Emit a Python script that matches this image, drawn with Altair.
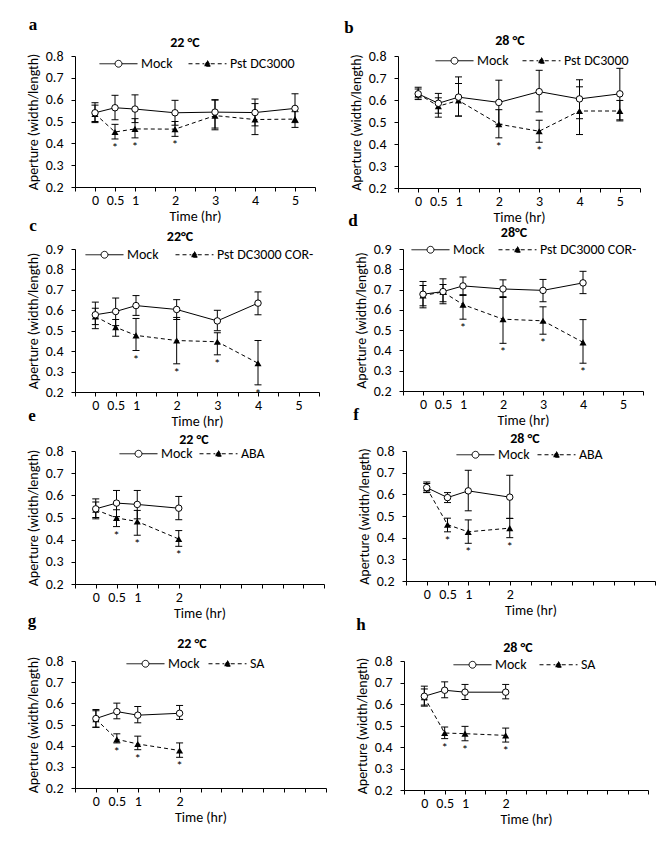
import altair as alt
import pandas as pd

FONT = "Carlito, Lato, sans-serif"
SERIF = "Liberation Serif, DejaVu Serif, serif"

# ---------------- data ----------------
T_LONG = [0, 0.5, 1, 2, 3, 4, 5]
T_COR = [0, 0.5, 1, 2, 3, 4]
T_SHORT = [0, 0.5, 1, 2]
X_TICKS = [-0.5, 0, 0.5, 1, 1.5, 2, 2.5, 3, 3.5, 4, 4.5, 5, 5.5]
LABELS_LONG = [0, 0.5, 1, 2, 3, 4, 5]
LABELS_SHORT = [0, 0.5, 1, 2]
Y_TICKS_8 = [0.2, 0.3, 0.4, 0.5, 0.6, 0.7, 0.8]
Y_TICKS_9 = [0.2, 0.3, 0.4, 0.5, 0.6, 0.7, 0.8, 0.9]

# a: 22 °C, Pst DC3000
a_mock = [0.540, 0.563, 0.557, 0.540, 0.543, 0.541, 0.560]
a_mock_lo = [0.495, 0.508, 0.495, 0.483, 0.470, 0.480, 0.495]
a_mock_hi = [0.586, 0.620, 0.622, 0.597, 0.600, 0.603, 0.627]
a_trt = [0.535, 0.452, 0.466, 0.465, 0.527, 0.509, 0.511]
a_trt_lo = [0.500, 0.420, 0.425, 0.432, 0.462, 0.440, 0.473]
a_trt_hi = [0.575, 0.487, 0.513, 0.500, 0.598, 0.582, 0.545]
a_sig = [0.5, 1, 2]

# b: 28 °C, Pst DC3000
b_mock = [0.628, 0.585, 0.613, 0.589, 0.638, 0.605, 0.628]
b_mock_lo = [0.602, 0.540, 0.527, 0.490, 0.546, 0.515, 0.510]
b_mock_hi = [0.658, 0.630, 0.705, 0.690, 0.735, 0.692, 0.744]
b_trt = [0.628, 0.572, 0.598, 0.490, 0.458, 0.550, 0.550]
b_trt_lo = [0.610, 0.522, 0.527, 0.428, 0.408, 0.443, 0.505]
b_trt_hi = [0.650, 0.610, 0.675, 0.556, 0.508, 0.660, 0.598]
b_sig = [2, 3]

# c: 22°C, Pst DC3000 COR-
c_mock = [0.578, 0.594, 0.623, 0.604, 0.548, 0.635]
c_mock_lo = [0.510, 0.525, 0.575, 0.555, 0.500, 0.578]
c_mock_hi = [0.640, 0.660, 0.672, 0.652, 0.600, 0.690]
c_trt = [0.570, 0.517, 0.477, 0.452, 0.446, 0.341]
c_trt_lo = [0.530, 0.473, 0.403, 0.338, 0.382, 0.235]
c_trt_hi = [0.610, 0.555, 0.560, 0.565, 0.490, 0.452]
c_sig = [1, 2, 3, 4]

# d: 28°C, Pst DC3000 COR-
d_mock = [0.677, 0.690, 0.718, 0.703, 0.696, 0.733]
d_mock_lo = [0.610, 0.630, 0.671, 0.661, 0.640, 0.680]
d_mock_hi = [0.740, 0.753, 0.762, 0.748, 0.750, 0.790]
d_trt = [0.671, 0.688, 0.626, 0.554, 0.546, 0.440]
d_trt_lo = [0.620, 0.640, 0.554, 0.435, 0.480, 0.337]
d_trt_hi = [0.720, 0.725, 0.675, 0.665, 0.615, 0.552]
d_sig = [1, 2, 3, 4]

# e: 22 °C, ABA
e_mock = [0.539, 0.565, 0.559, 0.542]
e_mock_lo = [0.494, 0.504, 0.494, 0.490]
e_mock_hi = [0.584, 0.622, 0.622, 0.595]
e_trt = [0.535, 0.498, 0.482, 0.403]
e_trt_lo = [0.500, 0.459, 0.420, 0.370]
e_trt_hi = [0.570, 0.535, 0.532, 0.441]
e_sig = [0.5, 1, 2]

# f: 28 °C, ABA
f_mock = [0.631, 0.585, 0.616, 0.587]
f_mock_lo = [0.608, 0.562, 0.524, 0.489]
f_mock_hi = [0.657, 0.608, 0.711, 0.688]
f_trt = [0.629, 0.460, 0.427, 0.444]
f_trt_lo = [0.610, 0.427, 0.374, 0.400]
f_trt_hi = [0.650, 0.490, 0.482, 0.489]
f_sig = [0.5, 1, 2]

# g: 22 °C, SA
g_mock = [0.528, 0.561, 0.544, 0.553]
g_mock_lo = [0.487, 0.527, 0.508, 0.524]
g_mock_hi = [0.571, 0.601, 0.585, 0.590]
g_trt = [0.525, 0.430, 0.408, 0.377]
g_trt_lo = [0.487, 0.413, 0.381, 0.345]
g_trt_hi = [0.565, 0.456, 0.445, 0.413]
g_sig = [0.5, 1, 2]

# h: 28 °C, SA
h_mock = [0.636, 0.664, 0.655, 0.655]
h_mock_lo = [0.590, 0.629, 0.621, 0.624]
h_mock_hi = [0.683, 0.703, 0.691, 0.691]
h_trt = [0.632, 0.465, 0.462, 0.454]
h_trt_lo = [0.595, 0.439, 0.429, 0.423]
h_trt_hi = [0.670, 0.493, 0.496, 0.488]
h_sig = [0.5, 1, 2]

# ---------------- styling ----------------
FS = 14
MOCK_SYM = ("M-1,0L-0.18,0M0.18,0L1,0"
            "M-0.18,0A0.18,0.18,0,1,1,0.18,0A0.18,0.18,0,1,1,-0.18,0Z")
TRT_SYM = "M-1,0L-0.17,0M0.17,0L1,0M0,-0.17L0.17,0.13L-0.17,0.13Z"
DASH = [4, 3]


def make_df(times, mock, mlo, mhi, trt, tlo, thi, trt_name, sig):
    rows = []
    for i, t in enumerate(times):
        rows.append(dict(time=t, series="Mock", value=mock[i], lo=mlo[i], hi=mhi[i], sig=0))
        rows.append(dict(time=t, series=trt_name, value=trt[i], lo=tlo[i], hi=thi[i],
                         sig=1 if t in sig else 0))
    return pd.DataFrame(rows)


def panel(letter, title, trt_name, df, ymax, yticks, xlabels, w, h, lay):
    lx, ly, cp, letx, lety, tx, ty = lay
    label_list = ",".join(str(v) for v in xlabels)
    xscale = alt.Scale(domain=[-0.5, 5.5], nice=False, zero=False)
    yscale = alt.Scale(domain=[0.2, ymax], nice=False, zero=False)
    xaxis = alt.Axis(values=X_TICKS, title="Time (hr)", format="~g",
                     labelExpr=f"indexof([{label_list}], datum.value) >= 0 ? datum.label : ''",
                     labelFlush=False, labelOverlap=False, labelPadding=2, titlePadding=2)
    yaxis = alt.Axis(values=yticks, format=".1f", title="Aperture (width/length)",
                     labelPadding=8, titlePadding=5)
    X = alt.X("time:Q", scale=xscale, axis=xaxis)

    def Y(f):
        return alt.Y(f"{f}:Q", scale=yscale, axis=yaxis)

    base = alt.Chart(df)
    mock_f = "datum.series == 'Mock'"
    trt_f = "datum.series != 'Mock'"

    err = base.mark_rule(color="black", strokeWidth=1).encode(x=X, y=Y("lo"), y2="hi:Q")
    cap_lo = base.mark_tick(orient="horizontal", size=7, thickness=1, color="black",
                            opacity=1).encode(x=X, y=Y("lo"))
    cap_hi = base.mark_tick(orient="horizontal", size=7, thickness=1, color="black",
                            opacity=1).encode(x=X, y=Y("hi"))
    line_m = base.transform_filter(mock_f).mark_line(color="black", strokeWidth=1).encode(
        x=X, y=Y("value"))
    line_t = base.transform_filter(trt_f).mark_line(color="black", strokeWidth=1,
                                                    strokeDash=DASH).encode(x=X, y=Y("value"))
    pt_m = base.transform_filter(mock_f).mark_point(
        shape="circle", size=42, filled=True, fill="white", stroke="black",
        strokeWidth=1, opacity=1).encode(x=X, y=Y("value"))
    pt_t = base.transform_filter(trt_f).mark_point(
        shape="triangle-up", size=50, filled=True, color="black", opacity=1).encode(
        x=X, y=Y("value"))
    stars = base.transform_filter("datum.sig == 1").mark_text(
        text="*", baseline="top", dy=3, fontSize=13, font=FONT, color="black").encode(
        x=X, y=Y("lo"))

    dom = ["Mock", trt_name]
    leg = alt.Legend(title=None, orient="none", legendX=lx, legendY=ly - 19,
                     direction="horizontal", symbolSize=1444, symbolStrokeWidth=1,
                     symbolStrokeColor="black", labelFont=FONT, labelFontSize=FS,
                     labelColor="black", columnPadding=cp, padding=0, labelOffset=3,
                     symbolOpacity=1)
    legend_layer = base.transform_filter("false").mark_point(
        filled=True, strokeWidth=1, opacity=1).encode(
        x=X, y=Y("value"),
        shape=alt.Shape("series:N", scale=alt.Scale(domain=dom, range=[MOCK_SYM, TRT_SYM]),
                        legend=leg),
        fill=alt.Fill("series:N", scale=alt.Scale(domain=dom, range=["white", "black"]),
                      legend=leg),
        stroke=alt.Stroke("series:N", scale=alt.Scale(domain=dom, range=["black", "black"]),
                          legend=leg),
        strokeDash=alt.StrokeDash("series:N", scale=alt.Scale(domain=dom, range=[[1, 0], DASH]),
                                  legend=leg),
    )

    ttl = alt.Chart(alt.Data(values=[{"t": title}])).mark_text(
        font=FONT, fontSize=FS, fontWeight="bold", color="black", baseline="middle",
        align="center").encode(x=alt.value(tx), y=alt.value(ty), text="t:N")
    let = alt.Chart(alt.Data(values=[{"t": letter}])).mark_text(
        font=SERIF, fontSize=17, fontWeight="bold", color="black", baseline="middle",
        align="center").encode(x=alt.value(letx), y=alt.value(lety), text="t:N")

    return alt.layer(err, cap_lo, cap_hi, line_t, line_m, pt_t, pt_m, stars,
                     legend_layer, ttl, let).properties(width=w, height=h)


RES_S = dict(x="independent", y="independent", shape="independent",
             fill="independent", stroke="independent", strokeDash="independent")
RES_L = dict(shape="independent", fill="independent", stroke="independent",
             strokeDash="independent")


def row(p1, p2):
    return alt.hconcat(p1, p2, spacing=28).resolve_scale(**RES_S).resolve_legend(**RES_L)


pa = panel("a", "22 °C", "Pst DC3000",
           make_df(T_LONG, a_mock, a_mock_lo, a_mock_hi, a_trt, a_trt_lo, a_trt_hi, "Pst DC3000", a_sig),
           0.8, Y_TICKS_8, LABELS_LONG, 240, 131, (24, 7, 13, -42, -31, 110, -13))
pb = panel("b", "28 °C", "Pst DC3000",
           make_df(T_LONG, b_mock, b_mock_lo, b_mock_hi, b_trt, b_trt_lo, b_trt_hi, "Pst DC3000", b_sig),
           0.8, Y_TICKS_8, LABELS_LONG, 242, 132, (37, 4, 11, -49, -28, 112, -15))
pc = panel("c", "22°C", "Pst DC3000 COR-",
           make_df(T_COR, c_mock, c_mock_lo, c_mock_hi, c_trt, c_trt_lo, c_trt_hi, "Pst DC3000 COR-", c_sig),
           0.9, Y_TICKS_9, LABELS_LONG, 244, 143, (10, 5, 14, -42, -23, 105, -12))
pd_ = panel("d", "28°C", "Pst DC3000 COR-",
            make_df(T_COR, d_mock, d_mock_lo, d_mock_hi, d_trt, d_trt_lo, d_trt_hi, "Pst DC3000 COR-", d_sig),
            0.9, Y_TICKS_9, LABELS_LONG, 240, 142, (8, 0, 11, -50, -28, 111, -16))
pe = panel("e", "22 °C", "ABA",
           make_df(T_SHORT, e_mock, e_mock_lo, e_mock_hi, e_trt, e_trt_lo, e_trt_hi, "ABA", e_sig),
           0.8, Y_TICKS_8, LABELS_SHORT, 249, 133, (44, 2, 4, -43, -35, 119, -11))
pf = panel("f", "28 °C", "ABA",
           make_df(T_SHORT, f_mock, f_mock_lo, f_mock_hi, f_trt, f_trt_lo, f_trt_hi, "ABA", f_sig),
           0.8, Y_TICKS_8, LABELS_SHORT, 249, 130, (50, 3, 5, -50, -36, 119, -12))
pg = panel("g", "22 °C", "SA",
           make_df(T_SHORT, g_mock, g_mock_lo, g_mock_hi, g_trt, g_trt_lo, g_trt_hi, "SA", g_sig),
           0.8, Y_TICKS_8, LABELS_SHORT, 251, 127, (51, 2, 6, -43, -40, 117, -17))
ph = panel("h", "28 °C", "SA",
           make_df(T_SHORT, h_mock, h_mock_lo, h_mock_hi, h_trt, h_trt_lo, h_trt_hi, "SA", h_sig),
           0.8, Y_TICKS_8, LABELS_SHORT, 244, 129, (49, 3, 10, -43, -36, 114, -13))

top = alt.vconcat(row(pa, pb), row(pc, pd_), spacing=-12).resolve_scale(**RES_S).resolve_legend(**RES_L)
bottom = alt.vconcat(row(pe, pf), row(pg, ph), spacing=-8).resolve_scale(**RES_S).resolve_legend(**RES_L)

chart = alt.vconcat(top, bottom, spacing=-22).resolve_scale(**RES_S).resolve_legend(**RES_L).properties(
    padding={"left": 18, "top": 8, "right": 2, "bottom": 2},
    background="white",
).configure_view(stroke=None).configure_axis(
    grid=False, domainColor="black", tickColor="black", tickSize=4, domainWidth=1,
    labelFont=FONT, titleFont=FONT, labelFontSize=FS, titleFontSize=FS,
    titleFontWeight="normal", labelColor="black", titleColor="black",
)

chart.save("out.html", embed_options={"renderer": "svg", "actions": False})
